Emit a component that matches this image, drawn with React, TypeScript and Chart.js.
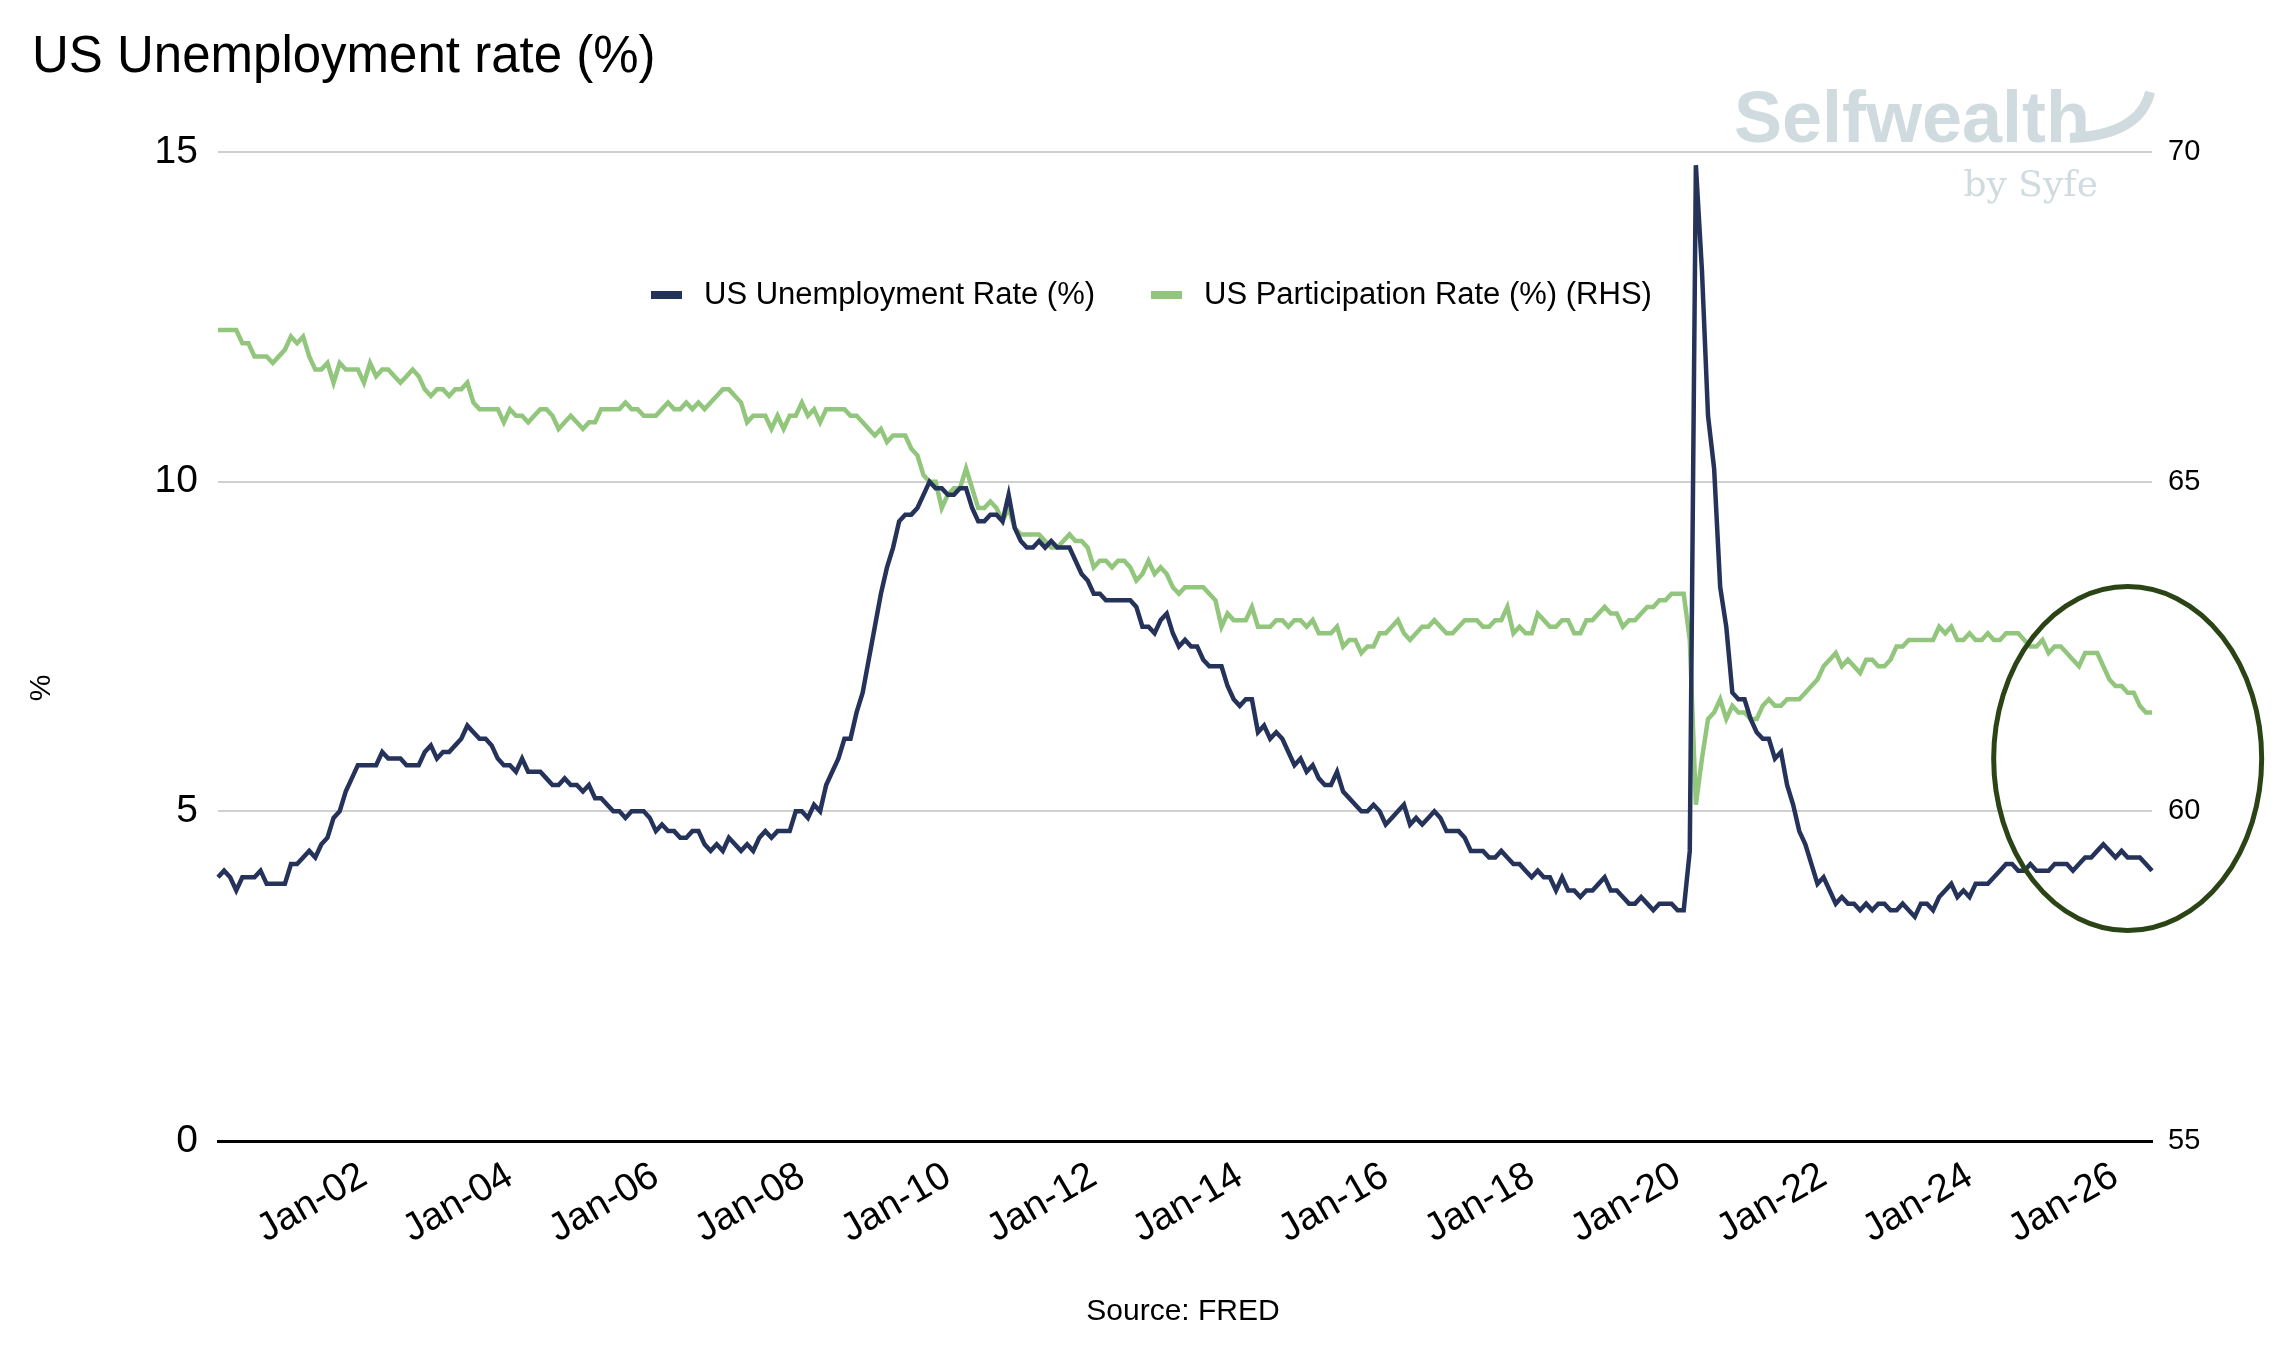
import React, { useEffect, useRef } from "react";
import { Chart, registerables } from "chart.js";
Chart.register(...registerables);

const MONTHS = ["Jan","Feb","Mar","Apr","May","Jun","Jul","Aug","Sep","Oct","Nov","Dec"];
const START_YEAR = 2000;

const unemployment: number[] = [
  4.0,4.1,4.0,3.8,4.0,4.0,4.0,4.1,3.9,3.9,3.9,3.9,
  4.2,4.2,4.3,4.4,4.3,4.5,4.6,4.9,5.0,5.3,5.5,5.7,
  5.7,5.7,5.7,5.9,5.8,5.8,5.8,5.7,5.7,5.7,5.9,6.0,
  5.8,5.9,5.9,6.0,6.1,6.3,6.2,6.1,6.1,6.0,5.8,5.7,
  5.7,5.6,5.8,5.6,5.6,5.6,5.5,5.4,5.4,5.5,5.4,5.4,
  5.3,5.4,5.2,5.2,5.1,5.0,5.0,4.9,5.0,5.0,5.0,4.9,
  4.7,4.8,4.7,4.7,4.6,4.6,4.7,4.7,4.5,4.4,4.5,4.4,
  4.6,4.5,4.4,4.5,4.4,4.6,4.7,4.6,4.7,4.7,4.7,5.0,
  5.0,4.9,5.1,5.0,5.4,5.6,5.8,6.1,6.1,6.5,6.8,7.3,
  7.8,8.3,8.7,9.0,9.4,9.5,9.5,9.6,9.8,10.0,9.9,9.9,
  9.8,9.8,9.9,9.9,9.6,9.4,9.4,9.5,9.5,9.4,9.8,9.3,
  9.1,9.0,9.0,9.1,9.0,9.1,9.0,9.0,9.0,8.8,8.6,8.5,
  8.3,8.3,8.2,8.2,8.2,8.2,8.2,8.1,7.8,7.8,7.7,7.9,
  8.0,7.7,7.5,7.6,7.5,7.5,7.3,7.2,7.2,7.2,6.9,6.7,
  6.6,6.7,6.7,6.2,6.3,6.1,6.2,6.1,5.9,5.7,5.8,5.6,
  5.7,5.5,5.4,5.4,5.6,5.3,5.2,5.1,5.0,5.0,5.1,5.0,
  4.8,4.9,5.0,5.1,4.8,4.9,4.8,4.9,5.0,4.9,4.7,4.7,
  4.7,4.6,4.4,4.4,4.4,4.3,4.3,4.4,4.3,4.2,4.2,4.1,
  4.0,4.1,4.0,4.0,3.8,4.0,3.8,3.8,3.7,3.8,3.8,3.9,
  4.0,3.8,3.8,3.7,3.6,3.6,3.7,3.6,3.5,3.6,3.6,3.6,
  3.5,3.5,4.4,14.8,13.2,11.0,10.2,8.4,7.8,6.8,6.7,6.7,
  6.4,6.2,6.1,6.1,5.8,5.9,5.4,5.1,4.7,4.5,4.2,3.9,
  4.0,3.8,3.6,3.7,3.6,3.6,3.5,3.6,3.5,3.6,3.6,3.5,
  3.5,3.6,3.5,3.4,3.6,3.6,3.5,3.7,3.8,3.9,3.7,3.8,
  3.7,3.9,3.9,3.9,4.0,4.1,4.2,4.2,4.1,4.1,4.2,4.1,
  4.1,4.1,4.2,4.2,4.2,4.1,4.2,4.3,4.3,4.4,4.5,4.4,
  4.3,4.4,4.3,4.3,4.3,4.2,4.1,
];

const participation: number[] = [
  67.3,67.3,67.3,67.3,67.1,67.1,66.9,66.9,66.9,66.8,66.9,67.0,
  67.2,67.1,67.2,66.9,66.7,66.7,66.8,66.5,66.8,66.7,66.7,66.7,
  66.5,66.8,66.6,66.7,66.7,66.6,66.5,66.6,66.7,66.6,66.4,66.3,
  66.4,66.4,66.3,66.4,66.4,66.5,66.2,66.1,66.1,66.1,66.1,65.9,
  66.1,66.0,66.0,65.9,66.0,66.1,66.1,66.0,65.8,65.9,66.0,65.9,
  65.8,65.9,65.9,66.1,66.1,66.1,66.1,66.2,66.1,66.1,66.0,66.0,
  66.0,66.1,66.2,66.1,66.1,66.2,66.1,66.2,66.1,66.2,66.3,66.4,
  66.4,66.3,66.2,65.9,66.0,66.0,66.0,65.8,66.0,65.8,66.0,66.0,
  66.2,66.0,66.1,65.9,66.1,66.1,66.1,66.1,66.0,66.0,65.9,65.8,
  65.7,65.8,65.6,65.7,65.7,65.7,65.5,65.4,65.1,65.0,65.0,64.6,
  64.8,64.9,64.9,65.2,64.9,64.6,64.6,64.7,64.6,64.4,64.6,64.3,
  64.2,64.2,64.2,64.2,64.1,64.0,64.0,64.1,64.2,64.1,64.1,64.0,
  63.7,63.8,63.8,63.7,63.8,63.8,63.7,63.5,63.6,63.8,63.6,63.7,
  63.6,63.4,63.3,63.4,63.4,63.4,63.4,63.3,63.2,62.8,63.0,62.9,
  62.9,62.9,63.1,62.8,62.8,62.8,62.9,62.9,62.8,62.9,62.9,62.8,
  62.9,62.7,62.7,62.7,62.8,62.5,62.6,62.6,62.4,62.5,62.5,62.7,
  62.7,62.8,62.9,62.7,62.6,62.7,62.8,62.8,62.9,62.8,62.7,62.7,
  62.8,62.9,62.9,62.9,62.8,62.8,62.9,62.9,63.1,62.7,62.8,62.7,
  62.7,63.0,62.9,62.8,62.8,62.9,62.9,62.7,62.7,62.9,62.9,63.0,
  63.1,63.0,63.0,62.8,62.9,62.9,63.0,63.1,63.1,63.2,63.2,63.3,
  63.3,63.3,62.6,60.1,60.8,61.4,61.5,61.7,61.4,61.6,61.5,61.5,
  61.4,61.4,61.6,61.7,61.6,61.6,61.7,61.7,61.7,61.8,61.9,62.0,
  62.2,62.3,62.4,62.2,62.3,62.2,62.1,62.3,62.3,62.2,62.2,62.3,
  62.5,62.5,62.6,62.6,62.6,62.6,62.6,62.8,62.7,62.8,62.6,62.6,
  62.7,62.6,62.6,62.7,62.6,62.6,62.7,62.7,62.7,62.6,62.5,62.5,
  62.6,62.4,62.5,62.5,62.4,62.3,62.2,62.4,62.4,62.4,62.2,62.0,
  61.9,61.9,61.8,61.8,61.6,61.5,61.5,
];

const labels: string[] = unemployment.map((_, i) => {
  const y = START_YEAR + Math.floor(i / 12);
  return `${MONTHS[i % 12]}-${String(y % 100).padStart(2, "0")}`;
});

const TITLE = "US Unemployment rate (%)";
const SERIES_NAMES = ["US Unemployment Rate (%)", "US Participation Rate (%) (RHS)"];
const NAVY = "#25325a";
const GREEN = "#91c67c";
const FONT = "Liberation Sans, Arial, sans-serif";

const extras = {
  id: "extras",
  beforeDatasetsDraw(chart: any) {
    const ctx = chart.ctx;
    ctx.save();
    ctx.fillStyle = "#cfdbdf";
    ctx.textAlign = "right";
    ctx.font = `bold 72px ${FONT}`;
    ctx.fillText("Selfwealth", 2090, 142);
    ctx.strokeStyle = "#cfdbdf";
    ctx.lineWidth = 10;
    ctx.beginPath();
    ctx.moveTo(2070, 138);
    ctx.quadraticCurveTo(2140, 135, 2150, 92);
    ctx.stroke();
    ctx.font = `36px "DejaVu Serif", serif`;
    ctx.fillText("by Syfe", 2098, 196);
    ctx.restore();
  },
  afterDraw(chart: any) {
    const ctx = chart.ctx;
    const xs = chart.scales.x;
    const ys = chart.scales.y;
    ctx.save();
    ctx.fillStyle = "#000";
    ctx.textBaseline = "alphabetic";
    ctx.font = `51px ${FONT}`;
    ctx.textAlign = "left";
    ctx.fillText(TITLE, 32, 72);
    ctx.font = `30px ${FONT}`;
    ctx.textAlign = "center";
    ctx.fillText("Source: FRED", 1183, 1320);
    ctx.save();
    ctx.translate(50, 688);
    ctx.rotate(-Math.PI / 2);
    ctx.font = `30px ${FONT}`;
    ctx.fillText("%", 0, 0);
    ctx.restore();
    ctx.font = `31px ${FONT}`;
    ctx.textAlign = "left";
    ctx.textBaseline = "middle";
    const ly = 295;
    const items = [
      { x: 651, c: NAVY, t: SERIES_NAMES[0] },
      { x: 1151, c: GREEN, t: SERIES_NAMES[1] },
    ];
    items.forEach((it) => {
      ctx.fillStyle = it.c;
      ctx.fillRect(it.x, ly - 4, 31, 8);
      ctx.fillStyle = "#000";
      ctx.fillText(it.t, it.x + 53, ly);
    });
    const cx = xs.getPixelForValue(314);
    const cy = ys.getPixelForValue(5.8);
    ctx.strokeStyle = "#2b4416";
    ctx.lineWidth = 5;
    ctx.beginPath();
    ctx.ellipse(cx, cy, 134, 172, 0, 0, Math.PI * 2);
    ctx.stroke();
    ctx.restore();
  },
};

export default function App() {
  const ref = useRef<HTMLCanvasElement>(null);
  useEffect(() => {
    document.body.style.margin = "0";
    const chart = new Chart(ref.current!, {
      type: "line",
      data: {
        labels,
        datasets: [
          { label: SERIES_NAMES[0], data: unemployment, borderColor: NAVY, borderWidth: 4.5, pointRadius: 0, yAxisID: "y", order: 1 },
          { label: SERIES_NAMES[1], data: participation, borderColor: GREEN, borderWidth: 4.5, pointRadius: 0, yAxisID: "y1", order: 2 },
        ],
      },
      options: {
        animation: false,
        responsive: false,
        devicePixelRatio: 1,
        layout: { padding: { top: 152, left: 0, right: 0, bottom: 0 } },
        plugins: { legend: { display: false }, title: { display: false }, tooltip: { enabled: false } },
        scales: {
          x: {
            offset: false,
            grid: { display: false, drawTicks: false },
            border: { color: "#000", width: 3 },
            ticks: {
              autoSkip: false,
              maxRotation: 30,
              minRotation: 30,
              color: "#000",
              font: { family: FONT, size: 39 },
              padding: 12,
              callback: (v: any, i: number) => (i % 24 === 0 && i >= 24 ? labels[i] : ""),
            },
            afterFit: (s: any) => { s.height = 213; },
          },
          y: {
            position: "left",
            min: 0, max: 15,
            ticks: { stepSize: 5, color: "#000", font: { family: FONT, size: 39 }, padding: 20 },
            grid: { color: "#d0d0d0", lineWidth: 2, drawTicks: false },
            border: { display: false },
            afterFit: (s: any) => { s.width = 218; },
          },
          y1: {
            position: "right",
            min: 55, max: 70,
            ticks: { stepSize: 5, color: "#000", font: { family: FONT, size: 29 }, padding: 16 },
            grid: { display: false, drawTicks: false },
            border: { display: false },
            afterFit: (s: any) => { s.width = 132; },
          },
        },
      },
      plugins: [extras],
    });
    return () => chart.destroy();
  }, []);
  return (
    <div style={{ position: "absolute", left: 0, top: 0, width: 2284, height: 1354, background: "#fff" }}>
      <canvas ref={ref} width={2284} height={1354} style={{ width: 2284, height: 1354 }} />
    </div>
  );
}
